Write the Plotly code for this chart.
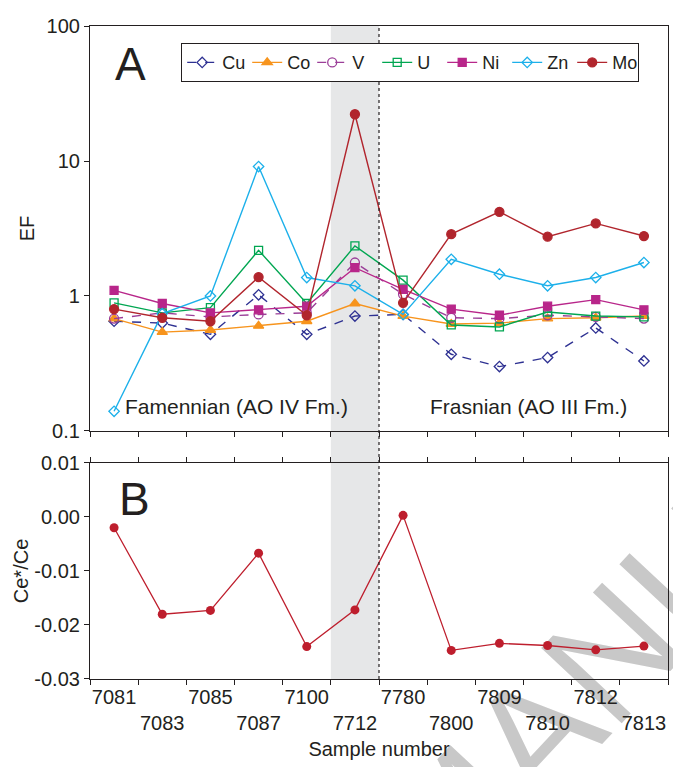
import plotly.graph_objects as go

samples = ["7081", "7083", "7085", "7087", "7100", "7712",
           "7780", "7800", "7809", "7810", "7812", "7813"]

cu = [0.65, 0.63, 0.52, 1.02, 0.52, 0.71, 0.73, 0.37, 0.30, 0.35, 0.58, 0.33]
co = [0.68, 0.54, 0.56, 0.60, 0.65, 0.88, 0.71, 0.62, 0.63, 0.68, 0.69, 0.71]
v  = [0.68, 0.75, 0.70, 0.73, 0.75, 1.77, 1.03, 0.69, 0.68, 0.72, 0.70, 0.68]
u  = [0.89, 0.75, 0.82, 2.18, 0.88, 2.35, 1.31, 0.61, 0.59, 0.76, 0.71, 0.70]
ni = [1.10, 0.88, 0.75, 0.79, 0.84, 1.62, 1.12, 0.80, 0.72, 0.84, 0.94, 0.79]
zn = [0.14, 0.74, 1.00, 9.1, 1.37, 1.19, 0.73, 1.87, 1.45, 1.19, 1.37, 1.77]
mo = [0.80, 0.69, 0.65, 1.38, 0.72, 22.2, 0.89, 2.87, 4.2, 2.75, 3.45, 2.78]

ce_anom = [-0.0020, -0.0180, -0.0173, -0.0067, -0.0240, -0.0172,
           0.0003, -0.0247, -0.0234, -0.0238, -0.0246, -0.0239]

ef_ticks = [0.1, 1, 10, 100]
ef_ticktext = ["0.1", "1", "10", "100"]
ce_ticks = [-0.03, -0.02, -0.01, 0.00, 0.01]
ce_ticktext = ["-0.03", "-0.02", "-0.01", "0.00", "0.01"]

FONT = "Liberation Sans, Arial, sans-serif"
INK = "#231f20"

series = [
    ("Cu", cu, "#2e3192", "dash", "diamond-open", 8),
    ("Co", co, "#f7941d", "solid", "triangle-up", 9),
    ("V", v, "#9b3e98", "dash", "circle-open", 9),
    ("U", u, "#00a651", "solid", "square-open", 8),
    ("Ni", ni, "#b8268a", "solid", "square", 8),
    ("Zn", zn, "#1cb0ea", "solid", "diamond-open", 8),
    ("Mo", mo, "#b1252d", "solid", "circle", 9),
]

fig = go.Figure()
for name, vals, col, dash, sym, sz in series:
    fig.add_trace(go.Scatter(
        x=samples, y=vals, name=name, mode="lines+markers",
        line=dict(color=col, width=1.4, dash=dash),
        marker=dict(symbol=sym, size=sz, color=col,
                    line=dict(color=col, width=1.3)),
        xaxis="x", yaxis="y"))

fig.add_trace(go.Scatter(
    x=samples, y=ce_anom, mode="lines+markers", showlegend=False,
    line=dict(color="#be1e2d", width=1.3),
    marker=dict(symbol="circle", size=9, color="#be1e2d"),
    xaxis="x2", yaxis="y2"))

# alternate label rows
ticktext = [s if i % 2 == 0 else "<br>" + s for i, s in enumerate(samples)]

axis_common = dict(
    type="category", range=[-0.5, 11.5], tickson="boundaries",
    ticks="outside", ticklen=5, tickwidth=1.2, tickcolor=INK,
    showline=True, linecolor=INK, linewidth=1.2, showgrid=False,
    zeroline=False, tickmode="array", tickvals=samples, tickangle=0)

fig.update_layout(
    width=673, height=767,
    margin=dict(l=90, r=5, t=26, b=88, autoexpand=False),
    paper_bgcolor="white", plot_bgcolor="rgba(0,0,0,0)",
    font=dict(family=FONT, size=20, color=INK),
    xaxis=dict(axis_common, domain=[0, 1], anchor="y", mirror=True,
               showticklabels=False, ticktext=samples),
    xaxis2=dict(axis_common, domain=[0, 1], anchor="y2", mirror="ticks",
                ticktext=ticktext, tickfont=dict(size=20),
                title=dict(text="Sample number", font=dict(size=20), standoff=8)),
    yaxis=dict(domain=[0.3798, 1], anchor="x", type="log", range=[-1, 2],
               tickmode="array", tickvals=ef_ticks, ticktext=ef_ticktext,
               ticks="outside", ticklen=5, tickwidth=1.2, tickcolor=INK,
               showline=True, linecolor=INK, linewidth=1.2, mirror=True,
               showgrid=False, zeroline=False, tickfont=dict(size=20),
               title=dict(text="EF", font=dict(size=20), standoff=6)),
    yaxis2=dict(domain=[0, 0.3308], anchor="x2", range=[-0.03, 0.01],
                tickmode="array", tickvals=ce_ticks, ticktext=ce_ticktext,
                ticks="outside", ticklen=5, tickwidth=1.2, tickcolor=INK,
                showline=True, linecolor=INK, linewidth=1.2, mirror=True,
                showgrid=False, zeroline=False, tickfont=dict(size=20),
                title=dict(text="Ce*/Ce", font=dict(size=20), standoff=0)),
    legend=dict(orientation="h", x=(181 - 90) / 578, y=(679 - 43) / 653,
                xanchor="left", yanchor="top", bgcolor="white",
                bordercolor=INK, borderwidth=1.2, font=dict(size=18),
                entrywidth=20, itemwidth=30, tracegroupgap=0),
    showlegend=True,
)

# shaded interval and boundary line
fig.add_shape(type="rect", xref="x", yref="paper", x0=4.5, x1=5.5, y0=0, y1=1,
              fillcolor="#e6e7e8", line=dict(width=0), layer="below")
fig.add_shape(type="line", xref="x", yref="paper", x0=5.5, x1=5.5, y0=0, y1=1,
              line=dict(color=INK, width=1.2, dash="dot"), layer="above")

# watermark
fig.add_shape(type="line", xref="paper", yref="paper",
              x0=0.700, y0=-0.118, x1=1.046, y1=0.210,
              line=dict(color="rgba(0,0,0,0)", width=0), layer="below",
              label=dict(text="MANUS", textangle=-47, textposition="middle",
                         xanchor="center", yanchor="middle", padding=0,
                         font=dict(size=160, color="#c8c8c8", family=FONT)))

fig.add_annotation(text="A", xref="paper", yref="paper", x=0.04, y=0.985,
                   xanchor="left", yanchor="top", showarrow=False,
                   font=dict(size=46, color=INK))
fig.add_annotation(text="B", xref="paper", yref="paper", x=0.046, y=0.318,
                   xanchor="left", yanchor="top", showarrow=False,
                   font=dict(size=46, color=INK))
fig.add_annotation(text="Famennian (AO IV Fm.)", xref="paper", yref="paper",
                   x=(123 - 90) / 578, y=(679 - 407) / 653, xanchor="left",
                   yanchor="middle", showarrow=False, font=dict(size=21, color=INK))
fig.add_annotation(text="Frasnian (AO III Fm.)", xref="paper", yref="paper",
                   x=(428 - 90) / 578, y=(679 - 407) / 653, xanchor="left",
                   yanchor="middle", showarrow=False, font=dict(size=21, color=INK))

fig.write_html("out.html")
